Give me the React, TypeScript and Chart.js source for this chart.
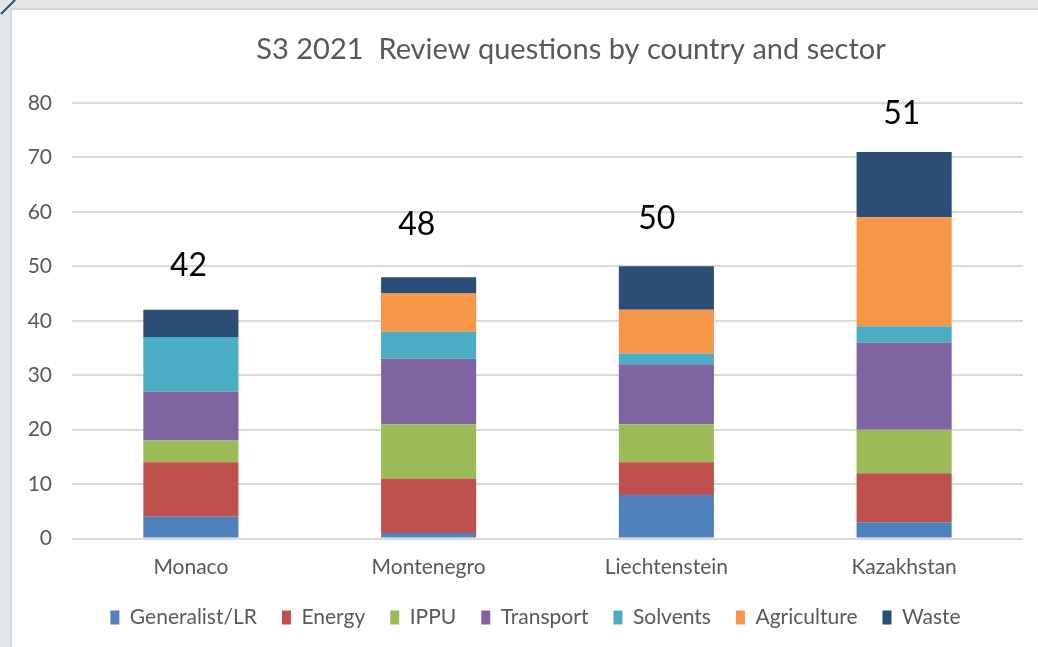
import React, { useEffect, useRef } from "react";
import { Chart, registerables } from "chart.js";

Chart.register(...registerables);

const categories = ["Monaco", "Montenegro", "Liechtenstein", "Kazakhstan"];
const generalist = [4, 1, 8, 3];
const energy = [10, 10, 6, 9];
const ippu = [4, 10, 7, 8];
const transport = [9, 12, 11, 16];
const solvents = [10, 5, 2, 3];
const agriculture = [0, 7, 8, 20];
const waste = [5, 3, 8, 12];

const yTicks = [0, 10, 20, 30, 40, 50, 60, 70, 80];

const titleText = "S3 2021  Review questions by country and sector";

// free text labels above bars
const labelTexts = ["42", "48", "50", "51"];
const labelValues = [50.2, 57.7, 58.7, 78];
const labelOffsets = [-0.01, -0.05, -0.04, -0.01];

const FONT = "Lato, 'Open Sans', sans-serif";

const labelPlugin = {
  id: "topLabels",
  afterLayout(chart: any) {
    const lg = chart.legend;
    if (lg) {
      lg.left += 18;
      lg.right += 18;
    }
  },
  afterDatasetsDraw(chart: any) {
    const { ctx, scales } = chart;
    ctx.save();
    ctx.font = `32px ${FONT}`;
    ctx.fillStyle = "#000000";
    ctx.textAlign = "center";
    ctx.textBaseline = "middle";
    labelTexts.forEach((t, i) => {
      const x = scales.x.getPixelForValue(i + labelOffsets[i]);
      const y = scales.y.getPixelForValue(labelValues[i]);
      ctx.fillText(t, x, y);
    });
    // title, offset right as in the original slide
    ctx.font = `29px ${FONT}`;
    ctx.fillStyle = "#595959";
    ctx.fillText(titleText, 559, 40);
    ctx.restore();
  },
};

export default function App() {
  const ref = useRef<HTMLCanvasElement>(null);
  useEffect(() => {
    if (!ref.current) return;
    const series = [
      { label: "Generalist/LR", data: generalist, color: "#4f81bd" },
      { label: "Energy", data: energy, color: "#c0504d" },
      { label: "IPPU", data: ippu, color: "#9bbb59" },
      { label: "Transport", data: transport, color: "#8064a2" },
      { label: "Solvents", data: solvents, color: "#4bacc6" },
      { label: "Agriculture", data: agriculture, color: "#f79646" },
      { label: "Waste", data: waste, color: "#2c4d75" },
    ];
    const chart = new Chart(ref.current, {
      type: "bar",
      data: {
        labels: categories,
        datasets: series.map((s) => ({
          label: s.label,
          data: s.data,
          backgroundColor: s.color,
          borderWidth: 0,
          barPercentage: 0.4,
          categoryPercentage: 1,
        })),
      },
      options: {
        animation: false,
        responsive: false,
        maintainAspectRatio: false,
        layout: { padding: { left: 0, right: 15, top: 93, bottom: 0 } },
        plugins: {
          title: { display: false },
          legend: {
            position: "bottom",
            labels: {
              color: "#595959",
              font: { family: FONT, size: 21 },
              boxWidth: 9,
              boxHeight: 14,
              padding: 25,
            },
          },
          tooltip: { enabled: false },
        },
        scales: {
          x: {
            stacked: true,
            grid: { display: false, drawTicks: false },
            border: { display: false },
            ticks: { color: "#595959", font: { family: FONT, size: 21 }, padding: 16 },
            afterFit: (s: any) => {
              s.height = 43.5;
            },
          },
          y: {
            stacked: true,
            min: 0,
            max: 80,
            afterBuildTicks: (s: any) => {
              s.ticks = yTicks.map((v) => ({ value: v }));
            },
            grid: { color: "#d9d9d9", lineWidth: 2, drawTicks: false },
            border: { display: false },
            ticks: { color: "#595959", font: { family: FONT, size: 21 }, padding: 20 },
            afterFit: (s: any) => {
              s.width = 60;
            },
          },
        },
      },
      plugins: [labelPlugin],
    });
    return () => chart.destroy();
  }, []);

  return (
    <div
      style={{
        position: "fixed",
        left: 0,
        top: 0,
        width: 1038,
        height: 647,
        background: "#e3e6e9",
        overflow: "hidden",
      }}
    >
      <div
        style={{
          position: "absolute",
          left: 10,
          top: 8,
          width: 1040,
          height: 660,
          background: "#ffffff",
          borderLeft: "2px solid #d4d6d8",
          borderTop: "2px solid #d4d6d8",
        }}
      >
        <canvas ref={ref} width={1026} height={628} style={{ display: "block" }} />
      </div>
      <div
        style={{
          position: "absolute",
          left: -2,
          top: 6,
          width: 20,
          height: 2,
          background: "#2c4d75",
          transform: "rotate(-45deg)",
        }}
      />
    </div>
  );
}
